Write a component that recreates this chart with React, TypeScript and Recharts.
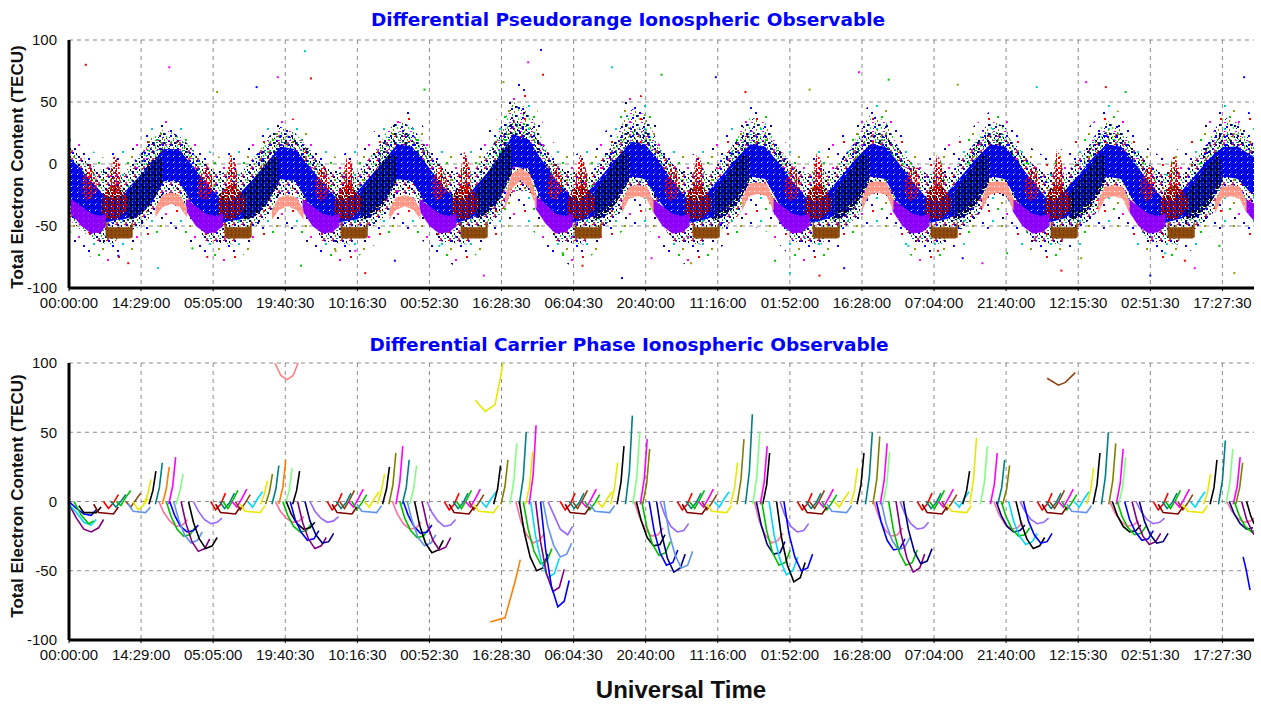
import React from 'react';
import { ComposedChart, Area, Line, Scatter, XAxis, YAxis, CartesianGrid } from 'recharts';

type Band = [number, number, number][];

// x is hours since the start of the record (tick spacing ~14.6 h)
const tickHours = [0, 14.6, 29.2, 43.8, 58.4, 73, 87.6, 102.2, 116.8, 131.4, 146, 160.6, 175.2, 189.8, 204.4, 219, 233.6];
const tickLabels = ['00:00:00', '14:29:00', '05:05:00', '19:40:30', '10:16:30', '00:52:30', '16:28:30', '06:04:30', '20:40:00',
  '11:16:00', '01:52:00', '16:28:00', '07:04:00', '21:40:00', '12:15:30', '02:51:30', '17:27:30'];
const yTicks = [-100, -50, 0, 50, 100];

// ---- pseudorange panel: dense point clouds read as [hour, low, high] envelopes ----
const pseudoHalo: Band = [
  [0, -62, 22], [3, -72, 15], [7, -80, 5], [10, -78, 12],
  [15.7, -62, 28], [19.7, -50, 35], [22.7, -55, 30], [26.7, -72, 15], [30.7, -80, 5], [33.7, -78, 12],
  [39.3, -62, 28], [43.3, -50, 40], [46.3, -55, 35], [50.3, -72, 15], [54.3, -80, 5], [57.3, -78, 12],
  [63, -62, 30], [67, -50, 45], [70, -55, 40], [74, -72, 18], [78, -82, 5], [81, -78, 12],
  [86.5, -60, 35], [90.5, -45, 68], [93.5, -52, 55], [97.5, -70, 20], [101.5, -82, 5], [104.5, -78, 12],
  [110.2, -60, 32], [114.2, -48, 62], [117.2, -52, 50], [121.2, -72, 18], [125.2, -82, 5], [128.2, -78, 12],
  [134.5, -60, 30], [138.5, -50, 48], [141.5, -55, 42], [145.5, -72, 15], [149.5, -82, 5], [152.5, -78, 12],
  [158.8, -60, 30], [162.8, -50, 52], [165.8, -55, 45], [169.8, -72, 15], [173.8, -82, 5], [176.8, -78, 12],
  [183.1, -60, 30], [187.1, -50, 45], [190.1, -55, 40], [194.1, -72, 15], [198.1, -82, 5], [201.1, -78, 12],
  [206.6, -60, 30], [210.6, -50, 48], [213.6, -55, 40], [217.6, -72, 15], [221.6, -82, 5], [224.6, -78, 12],
  [230.3, -60, 32], [234.3, -50, 50], [237.3, -55, 45], [240, -60, 40],
];

const pseudoFringe: Band = [
  [0, -45, 15], [3, -55, 5], [6, -64, -5], [9, -65, -2],
  [10.7, -55, -10], [13.7, -52, 5], [16.7, -42, 18], [19.2, -25, 22], [22.2, -25, 20], [24.7, -42, 14], [27.7, -62, 0], [30.7, -64, -8], [33.7, -65, -2],
  [34.3, -55, -10], [37.3, -52, 5], [40.3, -42, 18], [42.8, -25, 24], [45.8, -25, 22], [48.3, -42, 14], [51.3, -62, 0], [54.3, -64, -8], [57.3, -65, -2],
  [58, -55, -10], [61, -52, 6], [64, -42, 20], [66.5, -25, 26], [69.5, -25, 24], [72, -42, 15], [75, -62, 0], [78, -64, -8], [81, -65, -2],
  [81.5, -55, -8], [84.5, -50, 8], [87.5, -40, 24], [90, -22, 36], [93, -22, 32], [95.5, -40, 18], [98.5, -62, 2], [101.5, -64, -8], [104.5, -65, -2],
  [105.2, -55, -10], [108.2, -52, 6], [111.2, -42, 20], [113.7, -24, 30], [116.7, -24, 27], [119.2, -42, 15], [122.2, -62, 0], [125.2, -64, -8], [128.2, -65, -2],
  [129.5, -55, -10], [132.5, -52, 6], [135.5, -42, 20], [138, -25, 26], [141, -25, 24], [143.5, -42, 14], [146.5, -62, 0], [149.5, -64, -8], [152.5, -65, -2],
  [153.8, -55, -10], [156.8, -52, 6], [159.8, -42, 20], [162.3, -25, 27], [165.3, -25, 24], [167.8, -42, 14], [170.8, -62, 0], [173.8, -64, -8], [176.8, -65, -2],
  [178.1, -55, -10], [181.1, -52, 6], [184.1, -42, 20], [186.6, -25, 26], [189.6, -25, 24], [192.1, -42, 14], [195.1, -62, 0], [198.1, -64, -8], [201.1, -65, -2],
  [201.6, -55, -10], [204.6, -52, 6], [207.6, -42, 20], [210.1, -25, 26], [213.1, -25, 24], [215.6, -42, 14], [218.6, -62, 0], [221.6, -64, -8], [224.6, -65, -2],
  [225.3, -55, -10], [228.3, -52, 6], [231.3, -42, 20], [233.8, -25, 25], [236.8, -25, 24], [239, -35, 18], [240, -38, 16],
];

const pseudoSpray: Band[] = [
  [[14.7, -5, 8], [16.7, 0, 22], [19.2, 10, 28], [22.2, 10, 23], [24.7, 0, 14], [26.7, -10, 0]],
  [[38.3, -5, 8], [40.3, 0, 22], [42.8, 10, 30], [45.8, 10, 25], [48.3, 0, 14], [50.3, -10, 0]],
  [[62, -5, 8], [64, 0, 24], [66.5, 12, 35], [69.5, 12, 30], [72, 0, 16], [74, -10, 0]],
  [[85.5, -2, 12], [87.5, 5, 30], [90, 20, 50], [93, 18, 45], [95.5, 2, 22], [97.5, -8, 5]],
  [[109.2, -4, 10], [111.2, 2, 26], [113.7, 14, 45], [116.7, 14, 40], [119.2, 2, 18], [121.2, -10, 2]],
  [[133.5, -5, 8], [135.5, 0, 24], [138, 12, 38], [141, 12, 33], [143.5, 0, 15], [145.5, -10, 0]],
  [[157.8, -5, 8], [159.8, 0, 24], [162.3, 12, 40], [165.3, 12, 35], [167.8, 0, 15], [169.8, -10, 0]],
  [[182.1, -5, 8], [184.1, 0, 22], [186.6, 12, 35], [189.6, 12, 30], [192.1, 0, 14], [194.1, -10, 0]],
  [[205.6, -5, 8], [207.6, 0, 22], [210.1, 12, 35], [213.1, 12, 30], [215.6, 0, 14], [217.6, -10, 0]],
  [[229.3, -5, 8], [231.3, 0, 24], [233.8, 12, 38], [236.8, 12, 33], [239, 0, 20], [240, -2, 16]],
];

const pseudoBlue: Band = [
  [0, -32, 5], [2, -38, -2], [4.1, -45, -12], [7.1, -48, -25], [9.5, -45, -28],
  [10.7, -45, -25], [13.7, -42, -12], [16.7, -32, 0], [19.2, -14, 12], [22.2, -14, 12], [24.7, -30, 0], [27.7, -45, -15], [30.7, -48, -28], [32.5, -46, -30],
  [34.3, -45, -25], [37.3, -42, -12], [40.3, -30, 2], [42.8, -12, 14], [45.8, -14, 12], [48.3, -30, 0], [51.3, -45, -15], [54.3, -48, -28], [56, -46, -30],
  [58, -45, -24], [61, -40, -10], [64, -28, 4], [66.5, -12, 16], [69.5, -14, 14], [72, -30, 2], [75, -44, -14], [78, -48, -28], [79.8, -46, -30],
  [81.5, -44, -22], [84.5, -38, -8], [87.5, -25, 8], [90, -2, 24], [93, -4, 20], [95.5, -28, 5], [98.5, -44, -12], [101.5, -48, -26], [103.3, -46, -30],
  [105.2, -44, -22], [108.2, -38, -8], [111.2, -26, 6], [113.7, -10, 18], [116.7, -12, 16], [119.2, -28, 4], [122.2, -44, -14], [125.2, -48, -28], [127.5, -46, -30],
  [129.5, -44, -22], [132.5, -38, -8], [135.5, -26, 6], [138, -10, 16], [141, -12, 14], [143.5, -30, 2], [146.5, -44, -14], [149.5, -48, -28], [151.8, -46, -30],
  [153.8, -44, -22], [156.8, -38, -8], [159.8, -26, 6], [162.3, -10, 16], [165.3, -12, 14], [167.8, -30, 2], [170.8, -44, -14], [173.8, -48, -28], [176.1, -46, -30],
  [178.1, -44, -22], [181.1, -38, -8], [184.1, -26, 6], [186.6, -10, 16], [189.6, -12, 14], [192.1, -30, 2], [195.1, -44, -14], [198.1, -48, -28], [199.6, -46, -30],
  [201.6, -44, -22], [204.6, -38, -8], [207.6, -26, 6], [210.1, -10, 16], [213.1, -12, 14], [215.6, -30, 2], [218.6, -44, -14], [221.6, -48, -28], [223.3, -46, -30],
  [225.3, -44, -22], [228.3, -38, -8], [231.3, -26, 6], [233.8, -10, 14], [236.8, -12, 14], [239, -22, 8], [240, -25, 6],
];

const pseudoNavy: Band[] = [
  [[11.7, -46, -24], [14.2, -42, -10], [16.2, -34, 0], [17.7, -24, 6], [18.9, -16, 4]],
  [[35.3, -46, -24], [37.8, -42, -10], [39.8, -34, 0], [41.3, -24, 6], [42.5, -16, 4]],
  [[59, -46, -24], [61.5, -42, -10], [63.5, -34, 2], [65, -24, 8], [66.2, -16, 6]],
  [[82.5, -44, -22], [85, -40, -6], [87, -30, 6], [88.5, -18, 16], [89.7, -8, 14]],
  [[106.2, -46, -24], [108.7, -42, -10], [110.7, -32, 2], [112.2, -22, 10], [113.4, -14, 8]],
  [[130.5, -46, -24], [133, -42, -10], [135, -34, 0], [136.5, -24, 8], [137.7, -16, 6]],
  [[154.8, -46, -24], [157.3, -42, -10], [159.3, -34, 0], [160.8, -24, 8], [162, -16, 6]],
  [[179.1, -46, -24], [181.6, -42, -10], [183.6, -34, 0], [185.1, -24, 8], [186.3, -16, 6]],
  [[202.6, -46, -24], [205.1, -42, -10], [207.1, -34, 0], [208.6, -24, 8], [209.8, -16, 6]],
  [[226.3, -46, -24], [228.8, -42, -10], [230.8, -34, 0], [232.3, -24, 6], [233.5, -16, 4]],
];

const pseudoDarkRed: Band[] = [
  [[6.6, -40, -30], [7.6, -44, -20], [9.6, -45, -16], [11.1, -40, -22], [12.1, -36, -28]],
  [[30.2, -40, -30], [31.2, -44, -20], [33.2, -45, -16], [34.7, -40, -22], [35.7, -36, -28]],
  [[53.8, -40, -30], [54.8, -44, -20], [56.8, -45, -16], [58.3, -40, -22], [59.3, -36, -28]],
  [[77.5, -40, -30], [78.5, -44, -20], [80.5, -45, -16], [82, -40, -22], [83, -36, -28]],
  [[101, -40, -30], [102, -44, -20], [104, -45, -16], [105.5, -40, -22], [106.5, -36, -28]],
  [[124.7, -40, -30], [125.7, -44, -20], [127.7, -45, -16], [129.2, -40, -22], [130.2, -36, -28]],
  [[149, -40, -30], [150, -44, -20], [152, -45, -16], [153.5, -40, -22], [154.5, -36, -28]],
  [[173.3, -40, -30], [174.3, -44, -20], [176.3, -45, -16], [177.8, -40, -22], [178.8, -36, -28]],
  [[197.6, -40, -30], [198.6, -44, -20], [200.6, -45, -16], [202.1, -40, -22], [203.1, -36, -28]],
  [[221.1, -40, -30], [222.1, -44, -20], [224.1, -45, -16], [225.6, -40, -22], [226.6, -36, -28]],
];

const pseudoRed: Band[] = [
  [[2.6, -24, -14], [3.6, -30, -4], [4.6, -28, -2], [5.6, -22, -12]],
  [[8.3, -20, -8], [9.1, -24, 8], [9.9, -22, 2], [10.5, -18, -8]],
  [[26.2, -24, -14], [27.2, -30, -4], [28.2, -28, -2], [29.2, -22, -12]],
  [[31.9, -20, -8], [32.7, -24, 8], [33.5, -22, 2], [34.1, -18, -8]],
  [[49.8, -24, -14], [50.8, -30, -4], [51.8, -28, -2], [52.8, -22, -12]],
  [[55.5, -20, -8], [56.3, -24, 6], [57.1, -22, 2], [57.7, -18, -8]],
  [[73.5, -24, -14], [74.5, -30, -4], [75.5, -28, -2], [76.5, -22, -12]],
  [[79.2, -20, -8], [80, -24, 10], [80.8, -22, 4], [81.4, -18, -8]],
  [[97, -24, -14], [98, -30, -4], [99, -28, -2], [100, -22, -12]],
  [[102.7, -20, -8], [103.5, -24, 8], [104.3, -22, 2], [104.9, -18, -8]],
  [[120.7, -24, -14], [121.7, -30, -4], [122.7, -28, -2], [123.7, -22, -12]],
  [[126.4, -20, -8], [127.2, -24, 8], [128, -22, 2], [128.6, -18, -8]],
  [[145, -24, -14], [146, -30, -4], [147, -28, -2], [148, -22, -12]],
  [[150.7, -20, -8], [151.5, -24, 10], [152.3, -22, 2], [152.9, -18, -8]],
  [[169.3, -24, -14], [170.3, -30, -4], [171.3, -28, -2], [172.3, -22, -12]],
  [[175, -20, -8], [175.8, -24, 8], [176.6, -22, 2], [177.2, -18, -8]],
  [[193.6, -24, -14], [194.6, -30, -4], [195.6, -28, -2], [196.6, -22, -12]],
  [[199.3, -20, -8], [200.1, -24, 12], [200.9, -22, 4], [201.5, -18, -8]],
  [[217.1, -24, -14], [218.1, -30, -4], [219.1, -28, -2], [220.1, -22, -12]],
  [[222.8, -20, -8], [223.6, -24, 8], [224.4, -22, 2], [225, -18, -8]],
];

const pseudoPurple: Band[] = [
  [[0.4, -40, -28], [2.5, -50, -34], [4.5, -56, -40], [6.5, -55, -42], [7.5, -50, -40]],
  [[23.7, -38, -28], [25.7, -50, -34], [27.7, -56, -40], [29.7, -55, -42], [31.2, -50, -40]],
  [[47.3, -38, -28], [49.3, -50, -34], [51.3, -56, -40], [53.3, -55, -42], [54.8, -50, -40]],
  [[71, -38, -28], [73, -50, -34], [75, -56, -40], [77, -55, -42], [78.5, -50, -40]],
  [[94.5, -36, -26], [96.5, -48, -32], [98.5, -56, -40], [100.5, -55, -42], [102, -50, -40]],
  [[118.2, -38, -28], [120.2, -50, -34], [122.2, -56, -40], [124.2, -55, -42], [125.7, -50, -40]],
  [[142.5, -38, -28], [144.5, -50, -34], [146.5, -56, -40], [148.5, -55, -42], [150, -50, -40]],
  [[166.8, -38, -28], [168.8, -50, -34], [170.8, -56, -40], [172.8, -55, -42], [174.3, -50, -40]],
  [[191.1, -38, -28], [193.1, -50, -34], [195.1, -56, -40], [197.1, -55, -42], [198.6, -50, -40]],
  [[214.6, -38, -28], [216.6, -50, -34], [218.6, -56, -40], [220.6, -55, -42], [222.1, -50, -40]],
  [[238.3, -38, -28], [240, -46, -32]],
];

const pseudoBrown: Band[] = [
  [[7.4, -59, -45], [7.9, -60, -51], [12.4, -60, -51], [12.9, -59, -45]],
  [[31.5, -59, -45], [32, -60, -51], [36.5, -60, -51], [37, -59, -45]],
  [[55, -59, -45], [55.5, -60, -51], [60, -60, -51], [60.5, -59, -45]],
  [[79.3, -59, -45], [79.8, -60, -51], [84.3, -60, -51], [84.8, -59, -45]],
  [[102.4, -59, -45], [102.9, -60, -51], [107.4, -60, -51], [107.9, -59, -45]],
  [[126.3, -59, -45], [126.8, -60, -51], [131.3, -60, -51], [131.8, -59, -45]],
  [[150.6, -59, -45], [151.1, -60, -51], [155.6, -60, -51], [156.1, -59, -45]],
  [[174.5, -59, -45], [175, -60, -51], [179.5, -60, -51], [180, -59, -45]],
  [[198.8, -59, -45], [199.3, -60, -51], [203.8, -60, -51], [204.3, -59, -45]],
  [[222.5, -59, -45], [223, -60, -51], [227.5, -60, -51], [228, -59, -45]],
];

const pseudoSalmon: Band[] = [
  [[17.5, -43, -35], [18.9, -35, -25], [20.7, -32, -23], [22.5, -35, -25], [23.9, -43, -35]],
  [[41.1, -45, -37], [42.5, -37, -27], [44.3, -34, -25], [46.1, -37, -27], [47.5, -45, -37]],
  [[64.8, -45, -37], [66.2, -37, -27], [68, -34, -25], [69.8, -37, -27], [71.2, -45, -37]],
  [[88.3, -36, -26], [89.7, -20, -8], [91.5, -13, -3], [93.3, -20, -8], [94.7, -36, -26]],
  [[112, -40, -30], [113.4, -28, -18], [115.2, -26, -17], [117, -28, -18], [118.4, -40, -30]],
  [[136.3, -38, -28], [137.7, -26, -16], [139.5, -24, -15], [141.3, -26, -16], [142.7, -38, -28]],
  [[160.6, -38, -28], [162, -25, -15], [163.8, -23, -14], [165.6, -25, -15], [167, -38, -28]],
  [[184.9, -38, -28], [186.3, -25, -15], [188.1, -23, -14], [189.9, -25, -15], [191.3, -38, -28]],
  [[208.4, -40, -30], [209.8, -28, -18], [211.6, -26, -17], [213.4, -28, -18], [214.8, -40, -30]],
  [[232.1, -40, -30], [233.5, -28, -18], [235.3, -26, -17], [237.1, -28, -18], [238.5, -40, -30]],
];

// isolated points far from the clouds
const strayRed: [number, number][] = [[3.4, 80], [49, 69], [12, -80], [28, -75], [60, -88], [104, -82], [152, -90], [176, -70], [201, -86], [226, -78], [96, 72], [137, 58], [210, 62]];
const strayGreen: [number, number][] = [[25, -68], [47, -82], [72, 60], [100, -72], [120, 72], [143, -78], [166, 68], [190, -72], [214, 58], [233, -66]];
const strayMagenta: [number, number][] = [[20.3, 78], [42.3, 70], [58, -70], [84, -90], [93, 82], [118, -76], [160, 74], [185, -80], [206, 66], [228, -84]];
const strayBlue: [number, number][] = [[10, -74], [38, 62], [66, -78], [95.6, 92], [112, -92], [131, 70], [157, -84], [181, -76], [219, -90], [238, 70]];
const strayCyan: [number, number][] = [[47.8, 91], [18, -84], [75, -66], [110, 78], [146, -88], [170, -66], [196, 62], [222, -72]];
const strayOlive: [number, number][] = [[30, 58], [54, -70], [88, 66], [126, -80], [150, 60], [180, 64], [205, -76], [236, -88]];

// ---- carrier phase panel: one entry per satellite pass, [h0, v0, h1, v1, ...] ----
const phaseArcs: [string, number[]][] = [
  ['G04', [0, -2, 1.5, -12, 3, -20, 4.5, -22, 6, -19, 7, -13]],
  ['G14', [0, -2, 1.5, -8, 3, -15, 4.5, -17, 5.5, -13]],
  ['G01', [0, 0, 1.5, -5, 3, -9, 4.5, -10, 5.5, -6]],
  ['G11', [1, 0, 2.5, -10, 4, -16, 5, -14]],
  ['G03', [2, -3, 3, -8, 5.5, -8, 6.5, -4]],
  ['G08', [5, -2, 6, -8, 9, -9, 10, -4]],
  ['G07', [7, 0, 8, -5, 9, -1, 10, 5]],
  ['G11', [9.5, 0, 10.5, -3, 11.5, 3, 12.5, 8]],
  ['G17', [11.5, 0, 12.5, -4, 13.5, 1, 14.5, 6]],
  ['G15', [12, -2, 13, -7, 15.5, -8, 16.5, -4]],
  ['G16', [13, 0, 14, -6, 15, -3, 16, 2]],
  ['G13', [8.5, 0, 9.5, -4, 10.5, 0, 11.5, 5]],
  // day 1
  ['G16', [15.2, -2, 16, 6, 16.6, 16]],
  ['G03', [16.2, -2, 17, 8, 17.6, 22]],
  ['G13', [17.5, -2, 18.3, 10, 18.9, 28]],
  ['G09', [18.9, -2, 19.7, 9, 20.3, 25]],
  ['G05', [20.2, -2, 21, 11, 21.6, 32]],
  ['G12', [21.7, -2, 22.5, 8, 23.1, 20]],
  ['G06', [18.2, 0, 19.2, -8, 20.4, -14, 21.7, -18, 23, -17, 24, -13]],
  ['G11', [19.7, 0, 20.7, -11, 21.9, -20, 23.2, -25, 24.5, -24, 25.5, -19]],
  ['G01', [20.4, 0, 21.4, -10, 22.6, -18, 23.9, -22, 25.2, -21, 26.2, -17]],
  ['G15', [21.2, 0, 22.2, -13, 23.4, -24, 24.7, -30, 26, -28, 27, -22]],
  ['G04', [22.7, 0, 23.7, -16, 24.9, -29, 26.2, -36, 27.5, -34, 28.5, -27]],
  ['G03', [24.2, 0, 25.2, -15, 26.4, -27, 27.7, -34, 29, -32, 30, -26]],
  ['G18', [25.2, 0, 26.2, -7, 27.4, -13, 28.7, -16, 30, -15, 31, -12]],
  ['G07', [28.7, 0, 29.7, -6, 30.7, -2, 31.7, 6]],
  ['G13', [30.5, 0, 31.5, -5, 32.5, -1, 33.5, 6]],
  ['G11', [31.2, 0, 32.2, -5, 33.2, 1, 34.2, 8]],
  ['G05', [33, 0, 34, -4, 35, 2, 36, 9]],
  ['G17', [33.7, 0, 34.7, -6, 35.7, -1, 36.7, 5]],
  ['G14', [36.2, 0, 37.2, -4, 38.2, 2, 39.2, 7]],
  ['G08', [29.7, -2, 30.7, -8, 33.7, -9, 34.7, -4]],
  ['G16', [34.7, -2, 35.7, -7, 38.7, -8, 39.7, -3]],
  // day 2
  ['G16', [38.8, -2, 39.6, 6, 40.2, 15]],
  ['G10', [39.8, -2, 40.6, 7, 41.2, 20]],
  ['G13', [41.1, -2, 41.9, 9, 42.5, 26]],
  ['G09', [42.5, -2, 43.3, 10, 43.9, 30]],
  ['G12', [43.8, -2, 44.6, 8, 45.2, 24]],
  ['G03', [45.3, -2, 46.1, 8, 46.7, 22]],
  ['G06', [41.8, 0, 42.8, -7, 44, -12, 45.3, -15, 46.6, -14, 47.6, -11]],
  ['G11', [43.3, 0, 44.3, -10, 45.5, -18, 46.8, -22, 48.1, -21, 49.1, -16]],
  ['G03', [44, 0, 45, -9, 46.2, -16, 47.5, -20, 48.8, -19, 49.8, -15]],
  ['G01', [44.8, 0, 45.8, -13, 47, -22, 48.3, -28, 49.6, -27, 50.6, -21]],
  ['G04', [46.3, 0, 47.3, -15, 48.5, -27, 49.8, -34, 51.1, -32, 52.1, -26]],
  ['G02', [47.8, 0, 48.8, -14, 50, -24, 51.3, -30, 52.6, -29, 53.6, -23]],
  ['G18', [48.8, 0, 49.8, -7, 51, -12, 52.3, -15, 53.6, -14, 54.6, -11]],
  ['G07', [52.3, 0, 53.3, -6, 54.3, -2, 55.3, 6]],
  ['G13', [54.1, 0, 55.1, -5, 56.1, -1, 57.1, 6]],
  ['G17', [54.8, 0, 55.8, -5, 56.8, 1, 57.8, 8]],
  ['G05', [56.6, 0, 57.6, -4, 58.6, 2, 59.6, 9]],
  ['G11', [57.3, 0, 58.3, -6, 59.3, -1, 60.3, 5]],
  ['G16', [59.8, 0, 60.8, -4, 61.8, 2, 62.8, 7]],
  ['G08', [53.3, -2, 54.3, -8, 57.3, -9, 58.3, -4]],
  ['G15', [58.3, -2, 59.3, -7, 62.3, -8, 63.3, -3]],
  ['G19', [41.7, 100, 42.9, 91, 44.2, 88, 45.4, 91, 46.4, 100]],
  // day 3
  ['G16', [62.5, -2, 63.3, 8, 63.9, 20]],
  ['G03', [63.5, -2, 64.3, 9, 64.9, 25]],
  ['G10', [64.8, -2, 65.6, 12, 66.2, 35]],
  ['G05', [66.2, -2, 67, 14, 67.6, 40]],
  ['G13', [67.5, -2, 68.3, 10, 68.9, 30]],
  ['G12', [69, -2, 69.8, 9, 70.4, 26]],
  ['G06', [65.5, 0, 66.5, -9, 67.7, -16, 69, -20, 70.3, -19, 71.3, -15]],
  ['G11', [67, 0, 68, -12, 69.2, -21, 70.5, -26, 71.8, -25, 72.8, -20]],
  ['G01', [67.7, 0, 68.7, -10, 69.9, -18, 71.2, -23, 72.5, -22, 73.5, -17]],
  ['G15', [68.5, 0, 69.5, -14, 70.7, -26, 72, -32, 73.3, -30, 74.3, -24]],
  ['G03', [70, 0, 71, -17, 72.2, -30, 73.5, -37, 74.8, -35, 75.8, -28]],
  ['G04', [71.5, 0, 72.5, -16, 73.7, -28, 75, -35, 76.3, -33, 77.3, -26]],
  ['G18', [72.5, 0, 73.5, -8, 74.7, -14, 76, -18, 77.3, -17, 78.3, -13]],
  ['G07', [76, 0, 77, -6, 78, -2, 79, 6]],
  ['G13', [77.8, 0, 78.8, -5, 79.8, -1, 80.8, 6]],
  ['G11', [78.5, 0, 79.5, -5, 80.5, 1, 81.5, 8]],
  ['G05', [80.3, 0, 81.3, -4, 82.3, 2, 83.3, 9]],
  ['G17', [81, 0, 82, -6, 83, -1, 84, 5]],
  ['G14', [83.5, 0, 84.5, -4, 85.5, 2, 86.5, 7]],
  ['G08', [77, -2, 78, -8, 81, -9, 82, -4]],
  ['G16', [82, -2, 83, -7, 86, -8, 87, -3]],
  // day 4
  ['G16', [82.3, 73, 84.3, 65, 86.3, 70, 87.3, 88, 87.9, 100]],
  ['G09', [85.3, -87, 88.3, -84, 90.4, -57, 91.4, -42]],
  ['G03', [86, -2, 86.8, 9, 87.4, 26]],
  ['G10', [87.5, -2, 88.3, 11, 88.9, 30]],
  ['G12', [89.3, -2, 90.1, 15, 90.7, 42]],
  ['G13', [91.2, -2, 92, 17, 92.6, 50]],
  ['G16', [92.5, -2, 93.3, 12, 93.9, 36]],
  ['G05', [93.2, -2, 94, 19, 94.6, 55]],
  ['G06', [90.5, 0, 91.5, -14, 92.7, -24, 94, -30, 95.3, -28, 96.3, -23]],
  ['G03', [91.2, 0, 92.2, -22, 93.4, -40, 94.7, -50, 96, -48, 97, -38]],
  ['G11', [92, 0, 93, -20, 94.2, -36, 95.5, -45, 96.8, -43, 97.8, -34]],
  ['G14', [93.5, 0, 94.5, -25, 95.7, -44, 97, -55, 98.3, -52, 99.3, -41]],
  ['G04', [94.5, 0, 95.5, -29, 96.7, -52, 98, -65, 99.3, -62, 100.3, -49]],
  ['G01', [95.5, 0, 96.5, -34, 97.7, -61, 99, -76, 100.3, -72, 101.3, -57]],
  ['G15', [96, 0, 97, -18, 98.2, -32, 99.5, -40, 100.8, -38, 101.8, -30]],
  ['G18', [97, 0, 98, -8, 99.5, -20, 101, -24, 102, -18]],
  ['G07', [99.5, 0, 100.5, -6, 101.5, -2, 102.5, 6]],
  ['G13', [101.3, 0, 102.3, -5, 103.3, -1, 104.3, 6]],
  ['G17', [102, 0, 103, -5, 104, 1, 105, 8]],
  ['G05', [103.8, 0, 104.8, -4, 105.8, 2, 106.8, 9]],
  ['G11', [104.5, 0, 105.5, -6, 106.5, -1, 107.5, 5]],
  ['G16', [107, 0, 108, -4, 109, 2, 110, 7]],
  ['G08', [100.5, -2, 101.5, -8, 104.5, -9, 105.5, -4]],
  ['G15', [105.5, -2, 106.5, -7, 109.5, -8, 110.5, -3]],
  // day 5
  ['G16', [109.7, -2, 110.5, 10, 111.1, 28]],
  ['G03', [111, -2, 111.8, 14, 112.4, 40]],
  ['G13', [112.7, -2, 113.5, 22, 114.1, 62]],
  ['G12', [114.2, -2, 115, 18, 115.6, 50]],
  ['G05', [115.7, -2, 116.5, 16, 117.1, 45]],
  ['G10', [116.2, -2, 117, 13, 117.6, 38]],
  ['G06', [114.5, 0, 115.5, -11, 116.7, -20, 118, -25, 119.3, -24, 120.3, -19]],
  ['G03', [114.9, 0, 115.9, -14, 117.1, -26, 118.4, -32, 119.7, -31, 120.7, -24]],
  ['G11', [116, 0, 117, -18, 118.2, -31, 119.5, -39, 120.8, -37, 121.8, -29]],
  ['G01', [117.5, 0, 118.5, -21, 119.7, -37, 121, -46, 122.3, -44, 123.3, -35]],
  ['G02', [119, 0, 120, -23, 121.2, -41, 122.5, -51, 123.8, -48, 124.8, -38]],
  ['G18', [119.7, 0, 120.7, -10, 121.9, -18, 123.2, -22, 124.5, -21, 125.5, -16]],
  ['G15', [120.5, 0, 121.5, -22, 122.7, -38, 124, -48, 125.3, -46, 126.3, -36]],
  ['G07', [123.2, 0, 124.2, -6, 125.2, -2, 126.2, 6]],
  ['G13', [125, 0, 126, -5, 127, -1, 128, 6]],
  ['G11', [125.7, 0, 126.7, -5, 127.7, 1, 128.7, 8]],
  ['G05', [127.5, 0, 128.5, -4, 129.5, 2, 130.5, 9]],
  ['G17', [128.2, 0, 129.2, -6, 130.2, -1, 131.2, 5]],
  ['G14', [130.7, 0, 131.7, -4, 132.7, 2, 133.7, 7]],
  ['G08', [124.2, -2, 125.2, -8, 128.2, -9, 129.2, -4]],
  ['G16', [129.2, -2, 130.2, -7, 133.2, -8, 134.2, -3]],
  // day 6
  ['G16', [134, -2, 134.8, 10, 135.4, 28]],
  ['G10', [135.3, -2, 136.1, 16, 136.7, 45]],
  ['G13', [137, -2, 137.8, 22, 138.4, 63]],
  ['G12', [138.5, -2, 139.3, 18, 139.9, 50]],
  ['G05', [140, -2, 140.8, 14, 141.4, 40]],
  ['G03', [140.5, -2, 141.3, 12, 141.9, 35]],
  ['G06', [138.8, 0, 139.8, -14, 141, -24, 142.3, -30, 143.6, -28, 144.6, -23]],
  ['G02', [139.2, 0, 140.2, -17, 141.4, -31, 142.7, -38, 144, -37, 145, -29]],
  ['G11', [140.3, 0, 141.3, -21, 142.5, -37, 143.8, -46, 145.1, -44, 146.1, -35]],
  ['G14', [141.8, 0, 142.8, -24, 144, -42, 145.3, -53, 146.6, -50, 147.6, -40]],
  ['G03', [143.3, 0, 144.3, -26, 145.5, -46, 146.8, -58, 148.1, -55, 149.1, -44]],
  ['G18', [144, 0, 145, -10, 146.2, -18, 147.5, -22, 148.8, -21, 149.8, -16]],
  ['G01', [144.8, 0, 145.8, -23, 147, -40, 148.3, -50, 149.6, -48, 150.6, -38]],
  ['G07', [147.5, 0, 148.5, -6, 149.5, -2, 150.5, 6]],
  ['G13', [149.3, 0, 150.3, -5, 151.3, -1, 152.3, 6]],
  ['G17', [150, 0, 151, -5, 152, 1, 153, 8]],
  ['G05', [151.8, 0, 152.8, -4, 153.8, 2, 154.8, 9]],
  ['G11', [152.5, 0, 153.5, -6, 154.5, -1, 155.5, 5]],
  ['G16', [155, 0, 156, -4, 157, 2, 158, 7]],
  ['G08', [148.5, -2, 149.5, -8, 152.5, -9, 153.5, -4]],
  ['G15', [153.5, -2, 154.5, -7, 157.5, -8, 158.5, -3]],
  // day 7
  ['G16', [158.3, -2, 159.1, 8, 159.7, 24]],
  ['G03', [159.6, -2, 160.4, 12, 161, 35]],
  ['G13', [161.3, -2, 162.1, 18, 162.7, 50]],
  ['G10', [162.8, -2, 163.6, 16, 164.2, 47]],
  ['G05', [164.3, -2, 165.1, 15, 165.7, 42]],
  ['G12', [164.8, -2, 165.6, 12, 166.2, 36]],
  ['G06', [163, 0, 164, -11, 165.2, -20, 166.5, -25, 167.8, -24, 168.8, -19]],
  ['G01', [163.5, 0, 164.5, -15, 165.7, -28, 167, -35, 168.3, -34, 169.3, -27]],
  ['G15', [164.5, 0, 165.5, -16, 166.7, -28, 168, -35, 169.3, -33, 170.3, -26]],
  ['G11', [166, 0, 167, -21, 168.2, -37, 169.5, -46, 170.8, -44, 171.8, -35]],
  ['G04', [167.5, 0, 168.5, -23, 169.7, -41, 171, -51, 172.3, -48, 173.3, -38]],
  ['G18', [168.3, 0, 169.3, -9, 170.5, -16, 171.8, -20, 173.1, -19, 174.1, -15]],
  ['G02', [169, 0, 170, -20, 171.2, -36, 172.5, -45, 173.8, -43, 174.8, -34]],
  ['G07', [171.8, 0, 172.8, -6, 173.8, -2, 174.8, 6]],
  ['G13', [173.6, 0, 174.6, -5, 175.6, -1, 176.6, 6]],
  ['G11', [174.3, 0, 175.3, -5, 176.3, 1, 177.3, 8]],
  ['G05', [176.1, 0, 177.1, -4, 178.1, 2, 179.1, 9]],
  ['G17', [176.8, 0, 177.8, -6, 178.8, -1, 179.8, 5]],
  ['G14', [179.3, 0, 180.3, -4, 181.3, 2, 182.3, 7]],
  ['G08', [172.8, -2, 173.8, -8, 176.8, -9, 177.8, -4]],
  ['G16', [177.8, -2, 178.8, -7, 181.8, -8, 182.8, -3]],
  // day 8
  ['G03', [181, -2, 181.8, 8, 182.4, 22]],
  ['G16', [182.4, -2, 183.2, 16, 183.8, 46]],
  ['G12', [184.6, -2, 185.4, 14, 186, 40]],
  ['G05', [186.6, -2, 187.4, 12, 188, 35]],
  ['G13', [188.1, -2, 188.9, 10, 189.5, 30]],
  ['G10', [189.1, -2, 189.9, 9, 190.5, 26]],
  ['G06', [187.3, 0, 188.3, -9, 189.5, -16, 190.8, -20, 192.1, -19, 193.1, -15]],
  ['G02', [187.8, 0, 188.8, -10, 190, -18, 191.3, -22, 192.6, -21, 193.6, -17]],
  ['G11', [188.8, 0, 189.8, -11, 191, -20, 192.3, -25, 193.6, -24, 194.6, -19]],
  ['G14', [190.3, 0, 191.3, -14, 192.5, -25, 193.8, -31, 195.1, -29, 196.1, -23]],
  ['G03', [191.8, 0, 192.8, -15, 194, -27, 195.3, -34, 196.6, -32, 197.6, -26]],
  ['G18', [192.6, 0, 193.6, -7, 194.8, -13, 196.1, -16, 197.4, -15, 198.4, -12]],
  ['G01', [193.3, 0, 194.3, -14, 195.5, -24, 196.8, -30, 198.1, -29, 199.1, -23]],
  ['G07', [196.1, 0, 197.1, -6, 198.1, -2, 199.1, 6]],
  ['G13', [197.9, 0, 198.9, -5, 199.9, -1, 200.9, 6]],
  ['G17', [198.6, 0, 199.6, -5, 200.6, 1, 201.6, 8]],
  ['G05', [200.4, 0, 201.4, -4, 202.4, 2, 203.4, 9]],
  ['G11', [201.1, 0, 202.1, -6, 203.1, -1, 204.1, 5]],
  ['G14', [203.6, 0, 204.6, -4, 205.6, 2, 206.6, 7]],
  ['G08', [197.1, -2, 198.1, -8, 201.1, -9, 202.1, -4]],
  ['G15', [202.1, -2, 203.1, -7, 206.1, -8, 207.1, -3]],
  ['G17', [198.1, 89, 200.4, 84, 201.8, 86, 203.8, 93]],
  // day 9
  ['G16', [206.1, -2, 206.9, 8, 207.5, 24]],
  ['G03', [207.4, -2, 208.2, 12, 208.8, 35]],
  ['G13', [209.1, -2, 209.9, 18, 210.5, 50]],
  ['G10', [210.6, -2, 211.4, 15, 212, 42]],
  ['G05', [212.1, -2, 212.9, 13, 213.5, 38]],
  ['G12', [212.6, -2, 213.4, 11, 214, 32]],
  ['G06', [210.8, 0, 211.8, -8, 213, -14, 214.3, -18, 215.6, -17, 216.6, -14]],
  ['G03', [211.3, 0, 212.3, -10, 213.5, -18, 214.8, -22, 216.1, -21, 217.1, -17]],
  ['G11', [212.3, 0, 213.3, -11, 214.5, -19, 215.8, -24, 217.1, -23, 218.1, -18]],
  ['G01', [213.8, 0, 214.8, -13, 216, -22, 217.3, -28, 218.6, -27, 219.6, -21]],
  ['G04', [215.3, 0, 216.3, -14, 217.5, -25, 218.8, -31, 220.1, -29, 221.1, -23]],
  ['G18', [216.1, 0, 217.1, -7, 218.3, -13, 219.6, -16, 220.9, -15, 221.9, -12]],
  ['G02', [216.8, 0, 217.8, -14, 219, -24, 220.3, -30, 221.6, -29, 222.6, -23]],
  ['G07', [219.6, 0, 220.6, -6, 221.6, -2, 222.6, 6]],
  ['G13', [221.4, 0, 222.4, -5, 223.4, -1, 224.4, 6]],
  ['G11', [222.1, 0, 223.1, -5, 224.1, 1, 225.1, 8]],
  ['G05', [223.9, 0, 224.9, -4, 225.9, 2, 226.9, 9]],
  ['G17', [224.6, 0, 225.6, -6, 226.6, -1, 227.6, 5]],
  ['G14', [227.1, 0, 228.1, -4, 229.1, 2, 230.1, 7]],
  ['G08', [220.6, -2, 221.6, -8, 224.6, -9, 225.6, -4]],
  ['G16', [225.6, -2, 226.6, -7, 229.6, -8, 230.6, -3]],
  // day 10
  ['G16', [229.8, -2, 230.6, 7, 231.2, 20]],
  ['G03', [231.1, -2, 231.9, 10, 232.5, 30]],
  ['G13', [232.8, -2, 233.6, 15, 234.2, 44]],
  ['G12', [234.3, -2, 235.1, 13, 235.7, 38]],
  ['G05', [235.8, -2, 236.6, 11, 237.2, 32]],
  ['G10', [236.3, -2, 237.1, 10, 237.7, 28]],
  ['G06', [234.5, 0, 235.5, -7, 236.7, -12, 238, -15, 239.3, -14, 240, -12]],
  ['G02', [235, 0, 236, -9, 237.2, -16, 238.5, -20, 239.8, -19]],
  ['G11', [236, 0, 237, -10, 238.2, -18, 239.5, -22, 240, -21]],
  ['G04', [237.5, 0, 238.5, -13, 239.7, -22, 240, -24]],
  ['G03', [238.5, 0, 239.3, -10, 240, -16]],
  ['G01', [237.8, -40, 238.4, -49, 239.2, -64]],
];

const prnColors: Record<string, string> = {
  G01: '#0000ff', G02: '#000080', G03: '#000000', G04: '#800080', G05: '#ff00ff', G06: '#ff6fa0',
  G07: '#ff0000', G08: '#800000', G09: '#ff8000', G10: '#808000', G11: '#00c000', G12: '#80ff80',
  G13: '#008080', G14: '#00d8ff', G15: '#6495ed', G16: '#e8e800', G17: '#8b4513', G18: '#9966ff', G19: '#ff8080',
};

const strayColors: [string, [number, number][]][] = [
  ['#ff0000', strayRed], ['#00c000', strayGreen], ['#ff00ff', strayMagenta],
  ['#0000ff', strayBlue], ['#00cccc', strayCyan], ['#999900', strayOlive],
];

const toRange = (b: Band) => b.map(([h, lo, hi]) => ({ h, r: [lo, hi] }));
const toPts = (flat: number[]) => {
  const out: { h: number; v: number }[] = [];
  for (let i = 0; i < flat.length; i += 2) out.push({ h: flat[i], v: flat[i + 1] });
  return out;
};

const minorX = Array.from({ length: 101 }, (_, i) => i * 2.4);
const minorY = Array.from({ length: 41 }, (_, i) => -100 + i * 5);
const tickFont = { fontFamily: '"Liberation Sans", Arial, sans-serif', fontSize: 15, fill: '#111' };
const fmtTime = (h: number) => {
  const i = tickHours.indexOf(h);
  return i >= 0 ? tickLabels[i] : '';
};

const Dot = (color: string) => (p: any) => <rect x={p.cx - 1} y={p.cy - 1} width={2} height={2} fill={color} />;

function frame() {
  return [
    <CartesianGrid key="g" stroke="#8a8a8a" strokeDasharray="4 4" horizontalValues={yTicks} verticalValues={tickHours} />,
    <XAxis key="x" xAxisId={0} type="number" dataKey="h" domain={[0, 240]} ticks={tickHours} allowDataOverflow
      tickFormatter={fmtTime} tick={tickFont} tickLine={{ stroke: '#000' }} tickSize={3} tickMargin={6}
      axisLine={{ stroke: '#000', strokeWidth: 3 }} height={30} interval={0} />,
    <XAxis key="xt" xAxisId="t" orientation="top" type="number" domain={[0, 240]} ticks={minorX} allowDataOverflow
      tickFormatter={() => ''} tickLine={{ stroke: '#555' }} tickSize={2} mirror axisLine={{ stroke: '#444', strokeWidth: 2 }} height={0} />,
    <YAxis key="y" yAxisId={0} type="number" domain={[-100, 100]} ticks={yTicks} allowDataOverflow
      tick={tickFont} tickLine={false} tickMargin={6} axisLine={{ stroke: '#000', strokeWidth: 3 }} width={50} interval={0} />,
    <YAxis key="yr" yAxisId="r" orientation="right" type="number" domain={[-100, 100]} ticks={minorY}
      tickFormatter={() => ''} tickLine={{ stroke: '#555' }} tickSize={2} mirror axisLine={{ stroke: '#444', strokeWidth: 2 }} width={0} />,
  ];
}

function Patterns() {
  return (
    <defs>
      <pattern id="pHalo" width="29" height="23" patternUnits="userSpaceOnUse">
        <rect x="2" y="3" width="2" height="2" fill="#ff0000" />
        <rect x="11" y="1" width="2" height="2" fill="#00cc00" />
        <rect x="20" y="6" width="2" height="2" fill="#ff00ff" />
        <rect x="25" y="15" width="2" height="2" fill="#0000ff" />
        <rect x="6" y="13" width="2" height="2" fill="#00cccc" />
        <rect x="15" y="18" width="2" height="2" fill="#999900" />
        <rect x="1" y="20" width="2" height="2" fill="#0000ff" />
        <rect x="16" y="10" width="2" height="2" fill="#000080" />
      </pattern>
      <pattern id="pFringe" width="9" height="8" patternUnits="userSpaceOnUse">
        <rect x="0" y="0" width="2" height="2" fill="#0000ff" />
        <rect x="4" y="1" width="1" height="2" fill="#000000" />
        <rect x="7" y="0" width="2" height="1" fill="#ff0000" />
        <rect x="2" y="3" width="1" height="2" fill="#00c000" />
        <rect x="6" y="4" width="2" height="2" fill="#000080" />
        <rect x="0" y="6" width="1" height="2" fill="#ff00ff" />
        <rect x="3" y="6" width="2" height="1" fill="#008080" />
        <rect x="8" y="6" width="1" height="2" fill="#808000" />
        <rect x="5" y="3" width="1" height="1" fill="#00ccff" />
      </pattern>
      <pattern id="pSpray" width="11" height="9" patternUnits="userSpaceOnUse">
        <rect x="1" y="1" width="1" height="2" fill="#00ff00" />
        <rect x="5" y="0" width="2" height="2" fill="#0000ff" />
        <rect x="8" y="3" width="1" height="2" fill="#808000" />
        <rect x="3" y="5" width="2" height="1" fill="#ff00ff" />
        <rect x="9" y="7" width="2" height="2" fill="#000080" />
        <rect x="0" y="7" width="1" height="2" fill="#008080" />
        <rect x="6" y="6" width="1" height="2" fill="#00c000" />
        <rect x="4" y="2" width="1" height="1" fill="#0000ff" />
      </pattern>
      <pattern id="pBlue" width="6" height="6" patternUnits="userSpaceOnUse">
        <rect width="6" height="6" fill="#0000ff" />
        <rect x="1" y="1" width="1" height="1" fill="#000060" />
        <rect x="4" y="3" width="1" height="1" fill="#000000" />
        <rect x="2" y="4" width="1" height="1" fill="#000080" />
        <rect x="5" y="0" width="1" height="1" fill="#ffffff" />
        <rect x="0" y="5" width="1" height="1" fill="#00a0ff" />
        <rect x="3" y="1" width="1" height="1" fill="#1a1acc" />
      </pattern>
      <pattern id="pNavy" width="6" height="6" patternUnits="userSpaceOnUse">
        <rect x="0" y="0" width="3" height="2" fill="#00008b" />
        <rect x="4" y="0" width="2" height="3" fill="#000000" />
        <rect x="1" y="3" width="2" height="3" fill="#000080" />
        <rect x="3" y="4" width="3" height="2" fill="#00008b" />
        <rect x="0" y="2" width="1" height="1" fill="#008080" />
        <rect x="3" y="2" width="1" height="1" fill="#00a000" />
        <rect x="0" y="4" width="1" height="1" fill="#1c6f6f" />
      </pattern>
      <pattern id="pDarkRed" width="6" height="6" patternUnits="userSpaceOnUse">
        <rect x="0" y="0" width="2" height="3" fill="#8b0000" />
        <rect x="3" y="0" width="3" height="2" fill="#a00000" />
        <rect x="2" y="3" width="3" height="2" fill="#8b0000" />
        <rect x="0" y="4" width="1" height="2" fill="#000000" />
        <rect x="5" y="3" width="1" height="3" fill="#ff0000" />
        <rect x="3" y="2" width="1" height="1" fill="#ffffff" />
        <rect x="2" y="5" width="1" height="1" fill="#008080" />
      </pattern>
      <pattern id="pRed" width="5" height="5" patternUnits="userSpaceOnUse">
        <rect x="0" y="0" width="2" height="2" fill="#ff0000" />
        <rect x="3" y="2" width="2" height="2" fill="#ff0000" />
        <rect x="1" y="3" width="1" height="2" fill="#cc0000" />
      </pattern>
      <pattern id="pPurple" width="5" height="5" patternUnits="userSpaceOnUse">
        <rect width="5" height="5" fill="#8f00ff" />
        <rect x="1" y="1" width="1" height="1" fill="#7000d0" />
        <rect x="3" y="3" width="1" height="1" fill="#a040ff" />
        <rect x="4" y="0" width="1" height="1" fill="#6a00c8" />
      </pattern>
      <pattern id="pBrown" width="4" height="4" patternUnits="userSpaceOnUse">
        <rect width="4" height="4" fill="#8b4a0c" />
        <rect x="1" y="1" width="1" height="1" fill="#a86020" />
        <rect x="3" y="2" width="1" height="1" fill="#6a3000" />
      </pattern>
      <pattern id="pSalmon" width="5" height="5" patternUnits="userSpaceOnUse">
        <rect width="5" height="5" fill="#ff9a8a" />
        <rect x="1" y="1" width="1" height="1" fill="#ffb4a8" />
        <rect x="3" y="3" width="1" height="1" fill="#ff8070" />
        <rect x="4" y="1" width="1" height="1" fill="#ffffff" />
      </pattern>
    </defs>
  );
}

const band = (key: string, b: Band, fill: string) => (
  <Area key={key} data={toRange(b)} dataKey="r" type="linear" stroke="none" fill={fill} fillOpacity={1}
    isAnimationActive={false} dot={false} activeDot={false} />
);

const titleStyle: React.CSSProperties = {
  position: 'absolute', width: 700, textAlign: 'center', color: '#0000ff', fontWeight: 'bold',
  fontFamily: '"DejaVu Sans", Verdana, sans-serif', fontSize: 18.5, lineHeight: '22px', height: 22,
};
const yTitleStyle: React.CSSProperties = {
  position: 'absolute', width: 300, height: 20, lineHeight: '20px', textAlign: 'center', color: '#111',
  fontWeight: 'bold', fontFamily: '"Liberation Sans", Arial, sans-serif', fontSize: 17, transform: 'rotate(-90deg)',
};

export default function App() {
  return (
    <div style={{ position: 'absolute', left: 0, top: 0, width: 1261, height: 706, background: '#fff', overflow: 'hidden' }}>
      <div style={{ ...titleStyle, left: 628 - 350, top: 9 }}>Differential Pseudorange Ionospheric Observable</div>
      <div style={{ ...titleStyle, left: 629 - 350, top: 334 }}>Differential Carrier Phase Ionospheric Observable</div>
      <div style={{ ...yTitleStyle, left: 18 - 150, top: 167 - 10 }}>Total Electron Content (TECU)</div>
      <div style={{ ...yTitleStyle, left: 18 - 150, top: 496 - 10 }}>Total Electron Content (TECU)</div>
      <div style={{ position: 'absolute', left: 481, width: 400, top: 676, textAlign: 'center', fontWeight: 'bold',
        fontFamily: '"Liberation Sans", Arial, sans-serif', fontSize: 24, lineHeight: '28px', color: '#111' }}>Universal Time</div>

      <div style={{ position: 'absolute', left: 0, top: 0 }}>
        <ComposedChart width={1261} height={320} margin={{ top: 40, right: 7, bottom: 2, left: 19 }}>
          <Patterns />
          {frame()}
          {band('halo', pseudoHalo, 'url(#pHalo)')}
          {band('fringe', pseudoFringe, 'url(#pFringe)')}
          {pseudoSpray.map((b, i) => band('sp' + i, b, 'url(#pSpray)'))}
          {band('blue', pseudoBlue, 'url(#pBlue)')}
          {pseudoNavy.map((b, i) => band('nv' + i, b, 'url(#pNavy)'))}
          {pseudoDarkRed.map((b, i) => band('dr' + i, b, 'url(#pDarkRed)'))}
          {pseudoRed.map((b, i) => band('rd' + i, b, 'url(#pRed)'))}
          {pseudoPurple.map((b, i) => band('pu' + i, b, 'url(#pPurple)'))}
          {pseudoBrown.map((b, i) => band('br' + i, b, 'url(#pBrown)'))}
          {pseudoSalmon.map((b, i) => band('sa' + i, b, 'url(#pSalmon)'))}
          {strayColors.map(([c, pts], i) => (
            <Scatter key={'st' + i} data={pts.map(([h, v]) => ({ h, v }))} dataKey="v" shape={Dot(c)} isAnimationActive={false} />
          ))}
        </ComposedChart>
      </div>

      <div style={{ position: 'absolute', left: 0, top: 323 }}>
        <ComposedChart width={1261} height={349} margin={{ top: 40, right: 7, bottom: 2, left: 19 }}>
          {frame()}
          {phaseArcs.map(([prn, flat], i) => (
            <Line key={'a' + i} data={toPts(flat)} dataKey="v" type="linear" stroke={prnColors[prn]} strokeWidth={1.6}
              dot={false} activeDot={false} isAnimationActive={false} />
          ))}
        </ComposedChart>
      </div>
    </div>
  );
}
